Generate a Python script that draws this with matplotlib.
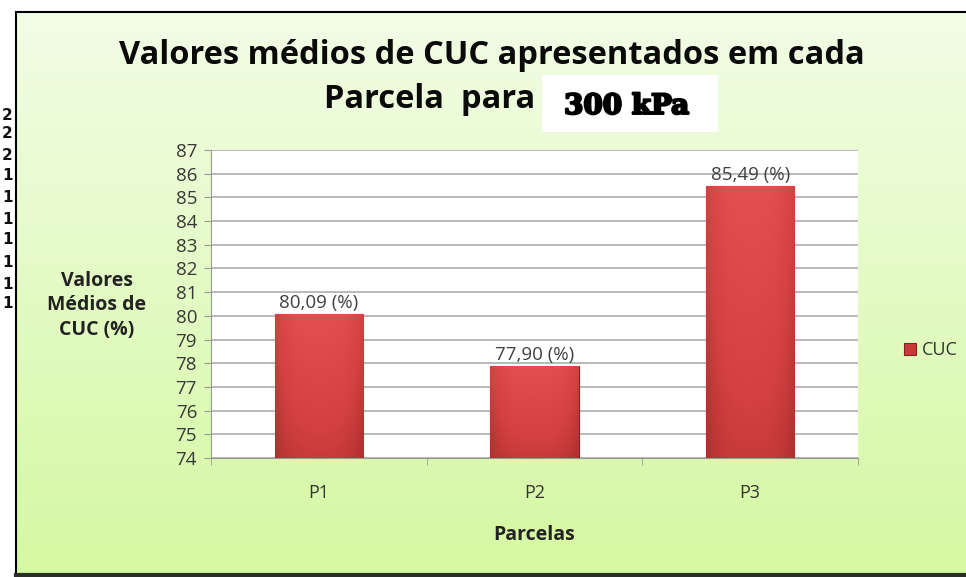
import numpy as np
import matplotlib.pyplot as plt
import matplotlib.patheffects as pe
from matplotlib.colors import LinearSegmentedColormap

# Dados do gráfico
parcelas = ["P1", "P2", "P3"]
cuc = [80.09, 77.90, 85.49]
rotulos = ["80,09 (%)", "77,90 (%)", "85,49 (%)"]
y_ticks = list(range(74, 88))

W, H = 966, 577
fig = plt.figure(figsize=(W / 100, H / 100), dpi=100)
fig.patch.set_facecolor("white")

def fx(px):
    return px / W

def fy(py):
    return 1 - py / H

# --- Fundo do gráfico (gradiente verde claro) ---
bg = fig.add_axes([fx(16), fy(575), 1 - fx(16), fy(12) - fy(575)], zorder=0)
grad = np.linspace(0, 1, 256).reshape(-1, 1)
cmap_bg = LinearSegmentedColormap.from_list("bg", ["#f2fde6", "#d5f8a2"])
bg.imshow(grad, aspect="auto", cmap=cmap_bg, extent=[0, 1, 1, 0])
bg.set_xlim(0, 1)
bg.set_ylim(1, 0)
bg.set_xticks([])
bg.set_yticks([])
bg.spines["right"].set_visible(False)
bg.spines["left"].set_linewidth(1.5)
bg.spines["top"].set_linewidth(1.5)
bg.spines["bottom"].set_linewidth(3)
bg.spines["bottom"].set_color("#2a2f28")

# restos de números na margem esquerda (vindos da imagem original)
for yy, d in [(115, "2"), (133, "2"), (155, "2"), (176, "1"), (197, "1"),
              (219, "1"), (240, "1"), (263, "1"), (284, "1"), (304, "1")]:
    fig.text(fx(2), fy(yy), d, fontsize=11, fontweight="bold", va="center",
             ha="left", color="#111111", zorder=1)

# --- Área de plotagem ---
ax = fig.add_axes([fx(211), fy(458), fx(858) - fx(211), fy(150) - fy(458)], zorder=2)
ax.set_facecolor("white")
x = np.arange(len(parcelas))
barras = ax.bar(x, [v - 74 for v in cuc], bottom=74, width=0.41,
                color="#c63a3a", edgecolor="#8a2020", linewidth=0.8, zorder=3,
                label="CUC")

# gradiente nas barras
cmap_bar = LinearSegmentedColormap.from_list("bar", ["#a82a2a", "#d24040", "#e25050"])
for b in barras:
    bx, by = b.get_x(), b.get_y()
    bw, bh = b.get_width(), b.get_height()
    hor = 1 - 0.3 * np.abs(np.linspace(-1, 1, 64)) ** 3
    ver = np.linspace(1.0, 0.6, 128).reshape(-1, 1)
    img = ver * hor
    im = ax.imshow(img, cmap=cmap_bar, vmin=0.35, vmax=1.0, aspect="auto",
                   extent=[bx, bx + bw, by, by + bh], origin="upper", zorder=3.5)
    im.set_clip_path(b)

for i, v in enumerate(cuc):
    ax.text(x[i], v + 0.08, rotulos[i], ha="center", va="bottom",
            fontsize=13.5, color="#404040", family="Open Sans", zorder=5)

ax.set_xlim(-0.5, 2.5)
ax.set_ylim(74, 87)
ax.set_yticks(y_ticks)
ax.set_yticklabels([str(t) for t in y_ticks], fontsize=13.5, color="#383838",
                   family="Open Sans")
ax.set_xticks(x)
ax.set_xticklabels(parcelas, fontsize=13, color="#333333", family="Open Sans")
ax.tick_params(axis="x", length=0, pad=19)
ax.set_xticks([-0.5, 0.5, 1.5, 2.5], minor=True)
ax.tick_params(axis="x", which="minor", length=5, color="#999999")
ax.tick_params(axis="y", length=5, color="#999999", pad=5)
ax.grid(axis="y", color="#a6a6a6", linewidth=1.1, zorder=1)
ax.set_axisbelow(True)
for lado in ["top", "right"]:
    ax.spines[lado].set_visible(False)
ax.spines["left"].set_color("#999999")
ax.spines["bottom"].set_color("#999999")

# --- Títulos e rótulos ---
fig.text(fx(492), fy(55), "Valores médios de CUC apresentados em cada",
         ha="center", va="center", fontsize=23.5, fontweight="bold",
         family="Open Sans", color="#0a0a0a", zorder=3)
fig.text(fx(430), fy(100), "Parcela  para", ha="center", va="center",
         fontsize=23.5, fontweight="bold", family="Open Sans", color="#0a0a0a", zorder=3)
caixa = fig.add_axes([fx(542), fy(132), fx(718) - fx(542), fy(75) - fy(132)], zorder=3)
caixa.set_facecolor("white")
caixa.set_xticks([])
caixa.set_yticks([])
for s in caixa.spines.values():
    s.set_visible(False)
caixa.text(0.48, 0.45, "300 kPa", ha="center", va="center", fontsize=20,
           fontweight="heavy", family="DejaVu Serif", color="black",
           transform=caixa.transAxes,
           path_effects=[pe.withStroke(linewidth=1.6, foreground="black")])

fig.text(fx(97), fy(305), "Valores\nMédios de\nCUC (%)", ha="center", va="center",
         fontsize=14, fontweight="bold", family="Open Sans", color="#222222",
         linespacing=1.3, zorder=3)
fig.text(fx(534), fy(535), "Parcelas", ha="center", va="center", fontsize=14,
         fontweight="bold", family="Open Sans", color="#222222", zorder=3)

leg = ax.legend(loc="center left", bbox_to_anchor=(fx(888), fy(350)),
                bbox_transform=fig.transFigure, frameon=False,
                handlelength=0.65, handleheight=0.65, handletextpad=0.3,
                prop={"family": "Open Sans", "size": 13})
for t in leg.get_texts():
    t.set_color("#333333")

fig.savefig("out.png", dpi=100)
